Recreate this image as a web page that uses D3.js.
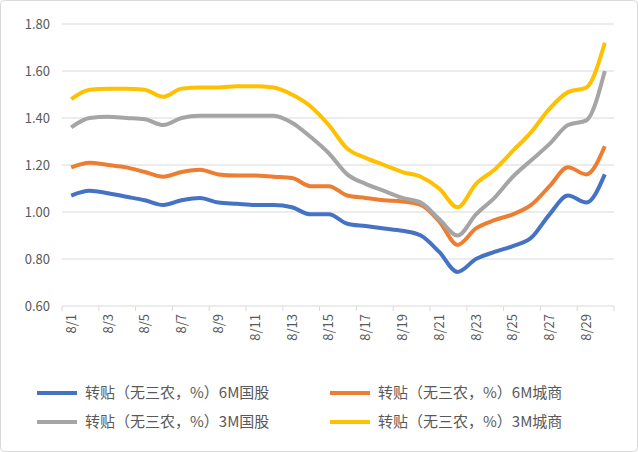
<!DOCTYPE html>
<html>
<head>
<meta charset="utf-8">
<script src="https://cdn.jsdelivr.net/npm/d3@7"></script>
<style>
  body { margin: 0; background: #fff; }
  text { font-family: "Noto Sans CJK SC", "Liberation Sans", sans-serif; }
</style>
</head>
<body>
<svg id="chart" width="638" height="452"></svg>
<script>
const days = d3.range(1, 31).map(d => `8/${d}`)
const tickLabels = days.filter((d, i) => i % 2 === 0)
const yTicks = [0.6, 0.8, 1.0, 1.2, 1.4, 1.6, 1.8]

const names = ["转贴（无三农，%）6M国股", "转贴（无三农，%）6M城商", "转贴（无三农，%）3M国股", "转贴（无三农，%）3M城商"]
const colors = ["#4472C4", "#ED7D31", "#A5A5A5", "#FFC000"]

const blue6M = [1.07, 1.09, 1.08, 1.065, 1.05, 1.03, 1.05, 1.06, 1.04, 1.035, 1.03, 1.03, 1.02, 0.99, 0.99, 0.95, 0.94, 0.93, 0.92, 0.90, 0.83, 0.745, 0.80, 0.83, 0.855, 0.89, 0.99, 1.07, 1.04, 1.16]
const orange6M = [1.19, 1.21, 1.20, 1.19, 1.17, 1.15, 1.17, 1.18, 1.16, 1.155, 1.155, 1.15, 1.145, 1.11, 1.11, 1.07, 1.06, 1.05, 1.045, 1.03, 0.96, 0.86, 0.93, 0.965, 0.99, 1.03, 1.11, 1.19, 1.16, 1.28]
const gray3M = [1.36, 1.40, 1.405, 1.40, 1.395, 1.37, 1.40, 1.41, 1.41, 1.41, 1.41, 1.41, 1.38, 1.32, 1.25, 1.16, 1.12, 1.09, 1.06, 1.04, 0.97, 0.90, 0.99, 1.06, 1.15, 1.22, 1.29, 1.37, 1.39, 1.60]
const yellow3M = [1.48, 1.52, 1.525, 1.525, 1.52, 1.49, 1.525, 1.53, 1.53, 1.535, 1.535, 1.53, 1.50, 1.45, 1.37, 1.27, 1.23, 1.20, 1.17, 1.15, 1.10, 1.02, 1.12, 1.18, 1.26, 1.34, 1.44, 1.51, 1.53, 1.72]
const series = [blue6M, orange6M, gray3M, yellow3M]

const svg = d3.select("#chart")
svg.append("rect").attr("x", 0.5).attr("y", 0.5).attr("width", 637).attr("height", 451)
  .attr("rx", 4).attr("fill", "#fff").attr("stroke", "#d9d9d9")

const plotLeft = 62, plotRight = 614, plotTop = 24, plotBottom = 306

const x = d3.scaleBand().domain(days).range([plotLeft, plotRight])
const y = d3.scaleLinear().domain([0.6, 1.8]).range([plotBottom, plotTop])

// grid
svg.append("g").selectAll("line").data(yTicks.slice(1)).join("line")
  .attr("x1", plotLeft).attr("x2", plotRight)
  .attr("y1", d => y(d)).attr("y2", d => y(d))
  .attr("stroke", "#d9d9d9").attr("stroke-width", 1)

// y labels
svg.append("g").selectAll("text").data(yTicks).join("text")
  .attr("x", 50).attr("y", d => y(d)).attr("dy", "0.35em")
  .attr("text-anchor", "end").attr("font-size", 13).attr("fill", "#595959")
  .text(d => d.toFixed(2))

// x axis
svg.append("line").attr("x1", plotLeft).attr("x2", plotRight).attr("y1", plotBottom).attr("y2", plotBottom)
  .attr("stroke", "#d9d9d9")
svg.append("g").selectAll("line").data(d3.range(0, 31, 2)).join("line")
  .attr("x1", i => plotLeft + i * x.step()).attr("x2", i => plotLeft + i * x.step())
  .attr("y1", plotBottom).attr("y2", plotBottom + 5).attr("stroke", "#d9d9d9")
svg.append("g").selectAll("text").data(tickLabels).join("text")
  .attr("transform", d => `translate(${x(d) + x.bandwidth() / 2},${plotBottom + 8}) rotate(-90)`)
  .attr("dy", "0.35em").attr("text-anchor", "end")
  .attr("font-size", 13).attr("fill", "#595959")
  .text(d => d)

// lines
const line = d3.line()
  .x((d, i) => x(days[i]) + x.bandwidth() / 2)
  .y(d => y(d))
  .curve(d3.curveMonotoneX)

svg.append("g").selectAll("path").data(series).join("path")
  .attr("d", line)
  .attr("fill", "none")
  .attr("stroke", (d, i) => colors[i])
  .attr("stroke-width", 4)
  .attr("stroke-linejoin", "round")

// legend
const legendPos = [[37, 393], [330, 393], [37, 422], [330, 422]]
const legend = svg.append("g").selectAll("g").data(names).join("g")
  .attr("transform", (d, i) => `translate(${legendPos[i][0]},${legendPos[i][1]})`)
legend.append("line").attr("x1", 0).attr("x2", 40)
  .attr("stroke", (d, i) => colors[i]).attr("stroke-width", 4)
legend.append("text").attr("x", 48).attr("dy", "0.35em")
  .attr("font-size", 15).attr("fill", "#595959")
  .text(d => d)
</script>
</body>
</html>
